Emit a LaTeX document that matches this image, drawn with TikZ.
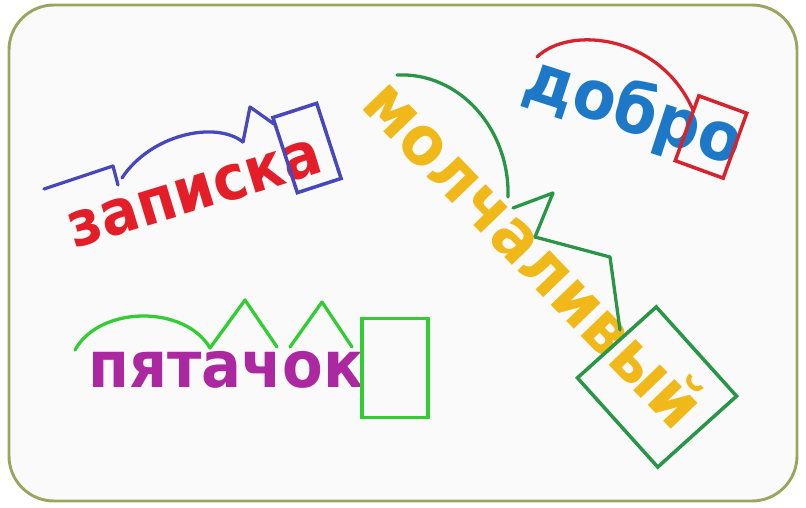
\documentclass[tikz,border=0pt]{standalone}
\usepackage{fontspec}
\newfontfamily\wordfont{DejaVu Sans}[FakeStretch=0.92]
\usetikzlibrary{positioning}

\definecolor{frameolive}{RGB}{155,165,95}
\definecolor{zred}{RGB}{228,30,40}
\definecolor{zblue}{RGB}{72,72,190}
\definecolor{pmagenta}{RGB}{172,40,160}
\definecolor{pgreen}{RGB}{50,205,50}
\definecolor{dblue}{RGB}{30,120,200}
\definecolor{dred}{RGB}{215,35,45}
\definecolor{myellow}{RGB}{240,185,25}
\definecolor{mgreen}{RGB}{40,150,70}

\tikzset{
  word/.style={font=\wordfont\bfseries\fontsize{#1}{#1}\selectfont, inner sep=0pt, anchor=base},
  ending/.style={draw, line width=3pt, inner sep=0pt},
  morpheme/.style={line width=2.8pt, line join=round, line cap=round}
}

\begin{document}
\begin{tikzpicture}[x=0.03cm, y=-0.03cm]
    \useasboundingbox (0,0) rectangle (806,508);
    % frame
    \draw[frameolive, line width=2.5pt, fill=white!98!black, rounded corners=1.35cm] (9,5) rectangle (797,501);

    % zapiska
    \node[word=53, text=zred, rotate=17] (zapiska) at (200,210) {записка};
    \node[ending, zblue, minimum width=1.38cm, minimum height=2.37cm, rotate=18] (zapiskaend) at (307,148) {};
    \draw[morpheme, zblue] (44,189) -- (113,166) -- (118,185);
    \draw[morpheme, zblue] (122,178) .. controls (150,135) and (215,120) .. (243,142);
    \draw[morpheme, zblue] (243,142) -- (250,107) -- (274,124);

    % pyatachok
    \node[word=55, text=pmagenta] (pyatachok) at (226,387) {пятачок};
    \node[ending, pgreen, minimum width=1.98cm, minimum height=2.97cm] (pyatachokend) at (395,368) {};
    \draw[morpheme, pgreen] (75,350) .. controls (100,305) and (185,305) .. (210,348);
    \draw[morpheme, pgreen] (210,348) -- (245,300) -- (277,347);
    \draw[morpheme, pgreen] (290,347) -- (322,302) -- (352,347);

    % dobro
    \node[word=58, text=dblue, rotate=-18] (dobro) at (627,131) {добро};
    \node[ending, dred, minimum width=1.53cm, minimum height=2.07cm, rotate=-20] (dobroend) at (711,137) {};
    \draw[morpheme, dred] (537,57) .. controls (570,25) and (660,35) .. (693,110);

    % molchalivyj
    \node[word=58, text=myellow, rotate=-46] (molchalivyj) at (517,270) {молчаливый};
    \node[ending, mgreen, minimum width=3.6cm, minimum height=3.18cm, rotate=-48] (molchalivyjend) at (657,387) {};
    \draw[morpheme, mgreen] (397,75) .. controls (460,72) and (510,130) .. (508,197);
    \draw[morpheme, mgreen] (513,208) -- (553,193) -- (535,237);
    \draw[morpheme, mgreen] (535,237) -- (610,257) -- (620,330);
\end{tikzpicture}
\end{document}
